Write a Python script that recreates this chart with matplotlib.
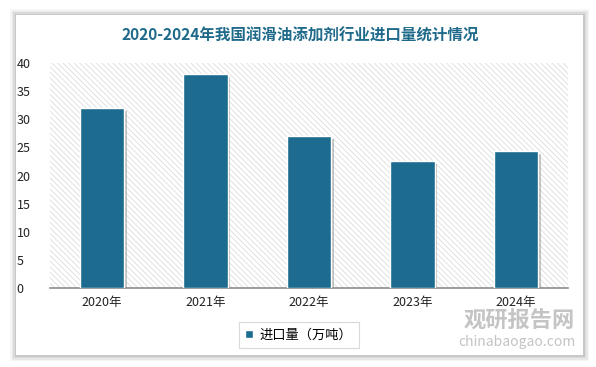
import matplotlib
matplotlib.use("Agg")
import matplotlib.pyplot as plt
import matplotlib.patheffects as pe
from matplotlib.patches import Rectangle

plt.rcParams['font.family'] = ['Noto Sans CJK SC', 'DejaVu Sans']
plt.rcParams['hatch.linewidth'] = 0.5

YEARS = ["2020年", "2021年", "2022年", "2023年", "2024年"]
IMPORTS = [32.0, 38.0, 27.0, 22.5, 24.3]
YTICKS = [0, 5, 10, 15, 20, 25, 30, 35, 40]

TITLE = "2020-2024年我国润滑油添加剂行业进口量统计情况"
LEGEND_LABEL = "进口量（万吨）"

COLOR_BAR = "#1D6C8F"
COLOR_TITLE = "#1F6A8A"
COLOR_TEXT = "#222222"

W, H = 596, 367
fig = plt.figure(figsize=(W / 100, H / 100), dpi=100, facecolor="white")

# card shadow + card
for i, a in enumerate([0.04, 0.05, 0.06, 0.08]):
    d = (4 - i) * 1.5
    fig.patches.append(Rectangle(((16 - d) / W, 1 - (355 + d) / H),
                                 (567 + 2 * d) / W, (340 + 2 * d) / H,
                                 transform=fig.transFigure, facecolor="black",
                                 alpha=a, edgecolor="none", zorder=0))
fig.patches.append(Rectangle((16 / W, 1 - 355 / H), 567 / W, 340 / H,
                             transform=fig.transFigure, facecolor="white",
                             edgecolor="none", zorder=1))

ax = fig.add_axes([50 / W, 1 - 288 / H, 518 / W, 225 / H])
ax.set_zorder(2)
ax.set_facecolor("none")

# hatched background
ax.add_patch(Rectangle((0, 0), 1, 1, transform=ax.transAxes,
                       facecolor="white", edgecolor="#d6d6d6",
                       hatch="\\" * 6, linewidth=0, zorder=0))

x = range(len(YEARS))
bars = ax.bar(x, IMPORTS, width=0.43, color=COLOR_BAR, edgecolor="white",
              linewidth=1.0, zorder=3)
for b in bars:
    b.set_path_effects([pe.SimplePatchShadow(offset=(1.8, -1.8),
                                             shadow_rgbFace="#808080", alpha=0.45),
                        pe.Normal()])

ax.set_xlim(-0.5, len(YEARS) - 0.5)
ax.set_ylim(0, 40)
ax.set_yticks(YTICKS)
ax.set_yticklabels([str(t) for t in YTICKS], fontsize=9, color=COLOR_TEXT)
ax.set_xticks(list(x))
ax.set_xticklabels(YEARS, fontsize=9, color=COLOR_TEXT)
ax.tick_params(axis="both", length=0)
ax.tick_params(axis="y", pad=24)
ax.tick_params(axis="x", pad=6)
for lbl in ax.get_yticklabels():
    lbl.set_horizontalalignment("left")
for side in ("top", "right", "left"):
    ax.spines[side].set_visible(False)
ax.spines["bottom"].set_color("#8c8c8c")
ax.spines["bottom"].set_linewidth(1.2)

fig.text(300 / W, 1 - 36 / H, TITLE, ha="center", va="center",
         fontsize=11.2, fontweight="bold", color=COLOR_TITLE)

leg = ax.legend([bars[0]], [LEGEND_LABEL], loc="center",
                bbox_to_anchor=(299 / W, 1 - 335 / H),
                bbox_transform=fig.transFigure, frameon=True, fancybox=False,
                fontsize=9.5, handlelength=0.6, handleheight=0.6,
                handletextpad=0.5, borderpad=0.5)
leg.get_frame().set_edgecolor("#d0d0d0")
leg.get_frame().set_linewidth(0.8)
for h in leg.legend_handles:
    h.set_path_effects([])

# watermark
fig.text(519 / W, 1 - 321 / H, "观研报告网", ha="center", va="center",
         fontsize=16, fontweight="bold", color="#c4c4c4", zorder=5)
fig.text(517 / W, 1 - 342 / H, "chinabaogao.com", ha="center", va="center",
         fontsize=10, color="#c4c4c4", zorder=5)

fig.savefig("out.png", dpi=100, facecolor="white")
